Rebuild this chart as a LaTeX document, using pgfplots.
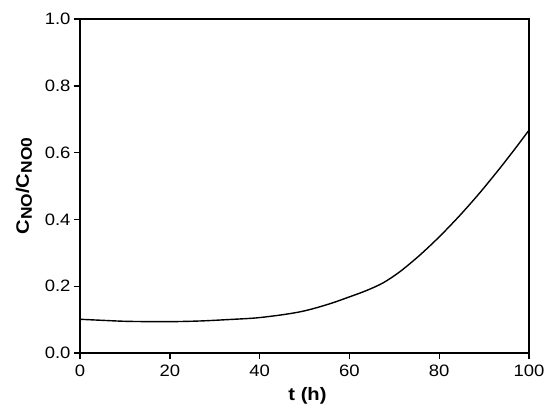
\documentclass[border=0pt]{standalone}
\usepackage{pgfplots}
\pgfplotsset{compat=1.18}
\usepackage{fontspec}
\setmainfont{Liberation Sans}[FakeStretch=1.12]
\begin{document}
\begin{tikzpicture}[x=1pt,y=1pt]
\begin{axis}[
  scale only axis,
  width=449pt, height=334pt,
  xmin=0, xmax=100, ymin=0, ymax=1.0,
  xtick={0,20,...,100},
  ytick={0,0.2,...,1.0},
  yticklabel style={/pgf/number format/fixed,/pgf/number format/fixed zerofill,/pgf/number format/precision=1},
  xticklabel style={yshift=-2pt},
  /pgf/number format/assume math mode=true,
  tick label style={font=\fontsize{16.5}{19}\selectfont},
  axis line style={line width=1.6pt},
  tick style={line width=1.4pt, black},
  major tick length=6pt,
  tick align=outside,
  xtick pos=bottom, ytick pos=left,
  minor tick num=0,
  xlabel={\textbf{t (h)}},
  ylabel={\textbf{C\raisebox{-3pt}{\fontsize{15.5}{18}\selectfont NO}/C\raisebox{-3pt}{\fontsize{15.5}{18}\selectfont NO0}}},
  label style={font=\fontsize{18}{20}\selectfont},
  xlabel style={at={(axis description cs:0.5,0)}, anchor=base, yshift=-47.8pt, xshift=3pt},
  ylabel style={at={(axis description cs:-0.1247,0.5)}, anchor=center, rotate=0},
  clip=false,
]
\addplot[black, line width=1.4pt, smooth, tension=0.5] coordinates {
(0,0.101) (4.7,0.098) (9.9,0.095) (15.1,0.094) (21,0.094) (27,0.096) (32.9,0.100) (39.2,0.105)
(44.8,0.114) (48.9,0.123) (52,0.133) (56,0.149) (60,0.168) (63.8,0.187) (67.5,0.210)
(71.2,0.243) (75.6,0.292) (80.1,0.349) (84.6,0.412) (89,0.479) (93.5,0.553) (97.2,0.617) (100,0.667)
};
\path (rel axis cs:0,0) ++(-80pt,-57pt) (rel axis cs:1,1) ++(21pt,19pt);
\end{axis}
\end{tikzpicture}
\end{document}
